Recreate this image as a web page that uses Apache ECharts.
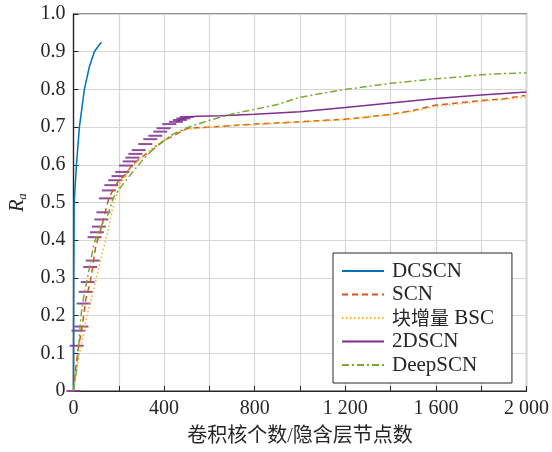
<!DOCTYPE html>
<html>
<head>
<meta charset="utf-8">
<script src="https://cdn.jsdelivr.net/npm/echarts@6/dist/echarts.min.js"></script>
<style>
html,body{margin:0;padding:0;background:#fff;}
#chart{width:552px;height:452px;}
</style>
</head>
<body>
<div id="chart"></div>
<script>
// 各算法 Ra 随卷积核个数/隐含层节点数变化
var names = ['DCSCN', 'SCN', '块增量 BSC', '2DSCN', 'DeepSCN'];
var colors = ['#0072BD', '#D95319', '#EDB120', '#7E2F8E', '#77AC30'];

var dcscn = [[0,0],[1,0.3],[3,0.5],[13,0.6],[26,0.7],[48,0.8],[70,0.86],[92,0.9],[110,0.915],[123,0.925]];

var scn = [[0,0],[10,0.06],[20,0.11],[32,0.15],[44,0.195],[54,0.243],[73,0.287],[85,0.33],[98,0.384],
  [120,0.427],[135,0.463],[156,0.511],[180,0.54],[197,0.555],[229,0.575],[260,0.6],[300,0.62],[346,0.638],
  [380,0.655],[412,0.668],[450,0.68],[504,0.697],[600,0.7],[800,0.708],[1000,0.714],[1200,0.721],
  [1300,0.727],[1400,0.734],[1491,0.743],[1596,0.758],[1700,0.764],[1797,0.77],[1900,0.775],[1994,0.784]];

var bsc = [[0,0],[3,0.01],[18,0.072],[40,0.14],[61,0.203],[91,0.274],[105,0.31],[125,0.36],[149,0.418],
  [178,0.497],[205,0.55],[250,0.59],[300,0.62],[350,0.645],[400,0.666],[450,0.684],[500,0.694],[600,0.7],
  [800,0.707],[1000,0.713],[1200,0.72],[1400,0.733],[1500,0.742],[1600,0.755],[1800,0.768],[1950,0.776],[2000,0.78]];

// 2DSCN 下段为短横标记，上段为实线
var dscn2Marks = [[0,0],[14,0.12],[22,0.16],[35,0.171],[45,0.232],[54,0.263],[63,0.289],[74,0.329],[85,0.346],
  [93,0.408],[103,0.421],[112,0.436],[123,0.455],[132,0.474],[143,0.511],[156,0.532],[167,0.546],[184,0.559],
  [199,0.57],[215,0.581],[232,0.598],[248,0.609],[260,0.619],[273,0.629],[288,0.639],[317,0.655],[339,0.668],
  [361,0.677],[383,0.688],[398,0.697],[423,0.708],[452,0.714],[470,0.719],[485,0.723],[500,0.727]];
var dscn2Line = [[452,0.714],[500,0.727],[550,0.729],[650,0.73],[800,0.734],[1000,0.741],[1200,0.752],
  [1400,0.764],[1600,0.776],[1800,0.785],[2000,0.793]];

var deepscn = [[0,0],[15,0.063],[25,0.134],[32,0.195],[44,0.247],[69,0.322],[91,0.392],[120,0.436],[149,0.463],
  [178,0.515],[215,0.546],[260,0.58],[310,0.616],[368,0.651],[441,0.682],[504,0.699],[600,0.718],[700,0.735],
  [800,0.747],[900,0.76],[1000,0.779],[1100,0.79],[1200,0.8],[1300,0.808],[1400,0.816],[1500,0.822],
  [1600,0.828],[1700,0.833],[1800,0.839],[1900,0.842],[2000,0.844]];

var serif = 'Liberation Serif';
var cjk = 'Liberation Serif, Noto Sans CJK SC';

function lineSeries(name, data, color, type){
  return {
    name: name, type: 'line', data: data, showSymbol: false, symbol: 'none',
    lineStyle: {color: color, width: 1.5, type: type},
    itemStyle: {color: color}
  };
}

var myChart = echarts.init(document.getElementById('chart'));
var option = {
  animation: false,
  backgroundColor: '#fff',
  grid: {left: 72, right: 24, top: 14, bottom: 58, show: true, borderColor: '#262626', borderWidth: 1.2},
  legend: {
    data: names, orient: 'vertical', left: 333, top: 253,
    backgroundColor: '#fff', borderColor: '#262626', borderWidth: 1,
    padding: [7, 13, 7, 8], itemWidth: 42, itemHeight: 14, itemGap: 1.5,
    itemStyle: {opacity: 0},
    formatter: function(n){
      return n.indexOf('块增量') === 0 ? '{c|块增量}' + n.slice(3) : n;
    },
    textStyle: {
      fontFamily: serif, fontSize: 21, color: '#262626', lineHeight: 22, padding: [0, 5, 0, 3],
      rich: {c: {fontFamily: 'Noto Sans CJK SC', fontSize: 19, color: '#262626', lineHeight: 22}}
    }
  },
  xAxis: {
    type: 'value', min: 0, max: 2000, interval: 200,
    name: '卷积核个数/隐含层节点数', nameLocation: 'middle', nameGap: 36,
    nameTextStyle: {fontFamily: cjk, fontSize: 20, color: '#262626'},
    axisLine: {lineStyle: {color: '#262626', width: 1.2}},
    axisTick: {inside: true, length: 5, lineStyle: {color: '#262626'}},
    axisLabel: {
      fontFamily: serif, fontSize: 20, color: '#262626', margin: 8,
      formatter: function(v){
        if (v % 400 !== 0) return '';
        var s = String(v);
        return s.length > 3 ? s.slice(0, s.length - 3) + ' ' + s.slice(-3) : s;
      }
    },
    splitLine: {show: true, lineStyle: {color: '#d6d6d6', width: 1.2}}
  },
  yAxis: {
    type: 'value', min: 0, max: 1, interval: 0.1,
    name: '{i|R}{s|a}', nameLocation: 'middle', nameGap: 44, nameRotate: 90,
    nameTextStyle: {
      rich: {
        i: {fontFamily: serif, fontStyle: 'italic', fontSize: 20, color: '#262626'},
        s: {fontFamily: serif, fontStyle: 'italic', fontSize: 13, color: '#262626', padding: [10, 0, 0, 0]}
      }
    },
    axisLine: {show: true, lineStyle: {color: '#262626', width: 1.2}},
    axisTick: {show: true, inside: true, length: 5, lineStyle: {color: '#262626'}},
    axisLabel: {
      fontFamily: serif, fontSize: 20, color: '#262626', margin: 8,
      formatter: function(v){ return v === 0 ? '0' : v.toFixed(1); }
    },
    splitLine: {show: true, lineStyle: {color: '#d6d6d6', width: 1.2}}
  },
  series: [
    lineSeries('DCSCN', dcscn, colors[0], 'solid'),
    lineSeries('SCN', scn, colors[1], [6, 4]),
    lineSeries('块增量 BSC', bsc, colors[2], [1.5, 2.5]),
    lineSeries('2DSCN', dscn2Line, colors[3], 'solid'),
    {
      name: '2DSCN', type: 'scatter', data: dscn2Marks,
      symbol: 'rect', symbolSize: [14, 2],
      itemStyle: {color: colors[3], opacity: 0.85}
    },
    lineSeries('DeepSCN', deepscn, colors[4], [7, 3, 2, 3])
  ]
};
myChart.setOption(option);
</script>
</body>
</html>
